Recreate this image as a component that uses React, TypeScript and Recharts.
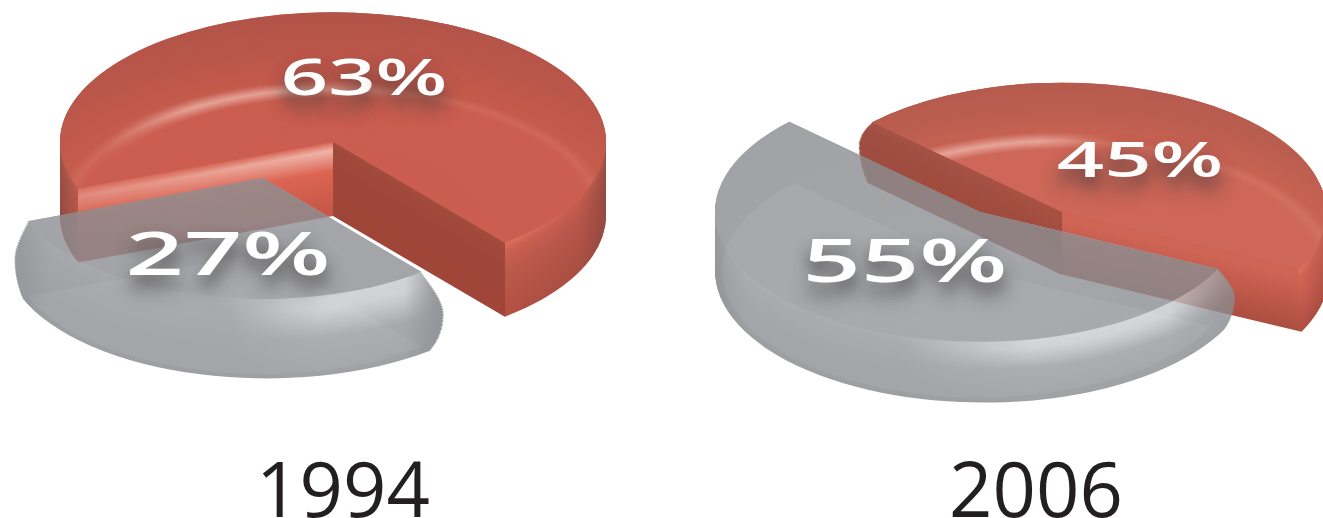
import { PieChart, Pie, Cell } from 'recharts';

const PAGE_W = 1323;
const PAGE_H = 518;

const years = ['1994', '2006'];
const redShares = [63, 45];
const grayShares = [27, 55];

const shareTable = (i: number) => [
  { name: 'red', value: redShares[i] },
  { name: 'gray', value: grayShares[i] },
];

// Four shades per x position: top of the wall down to its foot
const LEVELS = [0, 0.12, 0.4, 1];
type WallStop = [number, string[]];

const mixHex = (a: string, b: string, k: number) => {
  const parse = (h: string) => [1, 3, 5].map(p => parseInt(h.slice(p, p + 2), 16));
  const pa = parse(a);
  const pb = parse(b);
  const c = pa.map((v, i) => Math.round(v + (pb[i] - v) * k));
  return `rgb(${c[0]},${c[1]},${c[2]})`;
};

const shadeAt = (shades: string[], t: number) => {
  let i = 0;
  while (i < LEVELS.length - 2 && t > LEVELS[i + 1]) i++;
  return mixHex(shades[i], shades[i + 1], (t - LEVELS[i]) / (LEVELS[i + 1] - LEVELS[i]));
};

const redWalls1994: WallStop[] = [
  [60, ['#a5554a', '#9c5044', '#984c42', '#954a40']],
  [78, ['#c25c4e', '#b8594c', '#b4574a', '#b0554a']],
  [78, ['#d96a5a', '#e08c7e', '#d8604f', '#bd5444']],
  [200, ['#d5604f', '#e9a193', '#dc6554', '#c25646']],
  [333, ['#d5604f', '#efb5a8', '#dc6453', '#c25646']],
  [333, ['#a24c3e', '#a0493b', '#9e463a', '#a04639']],
  [505, ['#a24c3e', '#a0493b', '#9e463a', '#a04639']],
  [505, ['#e2705f', '#cd6152', '#bc5a4b', '#b25143']],
  [580, ['#cb6052', '#bf5a4c', '#b5544a', '#a84e42']],
  [606, ['#a8574a', '#9e5045', '#984a40', '#954a40']],
];

const redWalls2006: WallStop[] = [
  [860, ['#a65445', '#a14f42', '#9f4d40', '#a04d40']],
  [1062, ['#a85243', '#a65041', '#a04b3d', '#a24c3e']],
  [1062, ['#cd6354', '#cf6555', '#c65c4d', '#ab4f40']],
  [1298, ['#cd6354', '#cf6555', '#c65c4d', '#ab4f40']],
  [1298, ['#e07563', '#d46555', '#c85e50', '#b04f42']],
  [1323, ['#c76253', '#c05c4e', '#b85648', '#a84c40']],
];

// Gray is painted darker than it appears, the layer opacity lifts it over white
const grayPlain = ['#93959a', '#8e9094', '#8a8c90', '#86888c'];
const grayGlow = ['#c8cacd', '#c4c6c9', '#929498', '#888a8e'];
const grayEdge = ['#828488', '#7f8185', '#7c7e82', '#7a7c80'];

const grayWalls1994: WallStop[] = [
  [12, grayEdge],
  [50, grayPlain],
  [230, grayPlain],
  [320, grayGlow],
  [405, grayGlow],
  [436, grayEdge],
];

const grayWalls2006: WallStop[] = [
  [715, grayEdge],
  [745, grayPlain],
  [900, grayPlain],
  [1030, grayGlow],
  [1170, grayGlow],
  [1236, grayPlain],
];

interface PuckProps {
  id: string;
  table: { name: string; value: number }[];
  sliceIndex: number;
  startAngle: number;
  x: number;
  y: number;
  squash: number;
  depth: number;
  topRadius: number;
  wallRadius: number;
  wallShift: number;
  walls: WallStop[];
  faceStops: [number, string][];
  floorX: number;
  floorRadius: number;
  opacity?: number;
  floorTint?: string;
}

const LAYER_COUNT = 52;

const sliceCells = (table: PuckProps['table'], sliceIndex: number, fill: string) =>
  table.map((row, i) => <Cell key={row.name} fill={i === sliceIndex ? fill : 'none'} stroke="none" />);

const layerBox = (squash: number, extra = {}) => ({
  position: 'absolute' as const,
  left: 0,
  top: 0,
  transform: `scaleY(${squash})`,
  transformOrigin: '0 0',
  ...extra,
});

// Wall profile: bulges out below the top face, then tucks back in towards the foot
const swell = (t: number) =>
  t < 0.45 ? Math.sin((Math.PI / 2) * (t / 0.45)) : 1 - 0.6 * ((t - 0.45) / 0.55) ** 2;

const Puck = (p: PuckProps) => {
  const chartH = Math.ceil(PAGE_H / p.squash);
  const cy = p.y / p.squash;
  const depth = p.depth / p.squash;
  const layers = Array.from({ length: LAYER_COUNT }, (_, i) => i / (LAYER_COUNT - 1));
  const floorY = cy + depth;
  const faceR = depth + p.topRadius;

  return (
    <div style={layerBox(p.squash, { opacity: p.opacity ?? 1 })}>
      <PieChart width={PAGE_W} height={chartH} margin={{ top: 0, right: 0, bottom: 0, left: 0 }}>
        <defs>
          {layers.map((t, i) => (
            <linearGradient key={i} id={`${p.id}-w${i}`} gradientUnits="userSpaceOnUse" x1={0} x2={PAGE_W} y1={0} y2={0}>
              {p.walls.map(([x, shades], k) => (
                <stop key={k} offset={x / PAGE_W} stopColor={shadeAt(shades, t)} />
              ))}
            </linearGradient>
          ))}
          <radialGradient id={`${p.id}-face`} gradientUnits="userSpaceOnUse" cx={p.floorX} cy={floorY} r={faceR}>
            {p.faceStops.map(([o, c], k) => (
              <stop key={k} offset={o} stopColor={c} />
            ))}
          </radialGradient>
        </defs>
        {[...layers].reverse().map((t, n) => {
          const i = LAYER_COUNT - 1 - n;
          return (
            <Pie
              key={i}
              data={p.table}
              dataKey="value"
              cx={p.x + p.wallShift * swell(t)}
              cy={cy + t * depth}
              innerRadius={0}
              outerRadius={p.topRadius + (p.wallRadius - p.topRadius) * swell(t)}
              startAngle={p.startAngle}
              endAngle={p.startAngle + 360}
              stroke="none"
              isAnimationActive={false}
            >
              {sliceCells(p.table, p.sliceIndex, `url(#${p.id}-w${i})`)}
            </Pie>
          );
        })}
        <Pie
          data={p.table}
          dataKey="value"
          cx={p.x}
          cy={cy}
          innerRadius={0}
          outerRadius={p.topRadius}
          startAngle={p.startAngle}
          endAngle={p.startAngle + 360}
          stroke="none"
          isAnimationActive={false}
        >
          {sliceCells(p.table, p.sliceIndex, `url(#${p.id}-face)`)}
        </Pie>
        {p.floorTint && (
          <Pie
            data={p.table}
            dataKey="value"
            cx={p.x}
            cy={floorY}
            innerRadius={0}
            outerRadius={p.floorRadius}
            startAngle={p.startAngle}
            endAngle={p.startAngle + 360}
            stroke="none"
            isAnimationActive={false}
          >
            {sliceCells(p.table, p.sliceIndex, p.floorTint)}
          </Pie>
        )}
      </PieChart>
    </div>
  );
};

// Bright arc on the top face, faded out sideways with a css mask
const Glint = ({ id, table, sliceIndex, startAngle, x, y, squash, depth, radius, from, to, band }: any) => {
  const chartH = Math.ceil(PAGE_H / squash);
  const cy = y / squash;
  const floorY = cy + depth / squash;
  const mask = `linear-gradient(to right, transparent ${from[0]}px, black ${from[1]}px, black ${to[0]}px, transparent ${to[1]}px)`;
  return (
    <div style={layerBox(squash, { maskImage: mask, WebkitMaskImage: mask })}>
      <PieChart width={PAGE_W} height={chartH} margin={{ top: 0, right: 0, bottom: 0, left: 0 }}>
        <defs>
          <radialGradient id={`${id}-glint`} gradientUnits="userSpaceOnUse" cx={x} cy={floorY} r={radius + band}>
            <stop offset={(radius - band) / (radius + band)} stopColor="#f4c8bd" stopOpacity={0} />
            <stop offset={radius / (radius + band)} stopColor="#f4c8bd" stopOpacity={0.6} />
            <stop offset={1} stopColor="#f4c8bd" stopOpacity={0} />
          </radialGradient>
        </defs>
        <Pie
          data={table}
          dataKey="value"
          cx={x}
          cy={cy}
          innerRadius={0}
          outerRadius={radius + 8}
          startAngle={startAngle}
          endAngle={startAngle + 360}
          stroke="none"
          isAnimationActive={false}
        >
          {sliceCells(table, sliceIndex, `url(#${id}-glint)`)}
        </Pie>
      </PieChart>
    </div>
  );
};

const ShareLabel = ({ value, x, y, size, squash }: { value: number; x: number; y: number; size: number; squash: number }) => (
  <div
    style={{
      position: 'absolute',
      left: x,
      top: y,
      transform: `translate(-50%, -50%) scaleY(${squash})`,
      fontFamily: '"Open Sans", sans-serif',
      fontWeight: 600,
      fontSize: size,
      lineHeight: 1,
      color: '#fff',
      whiteSpace: 'nowrap',
      textShadow: '0 20px 20px rgba(60,55,55,0.55), 0 26px 30px rgba(60,55,55,0.3)',
    }}
  >
    {value}%
  </div>
);

const YearLabel = ({ text, x }: { text: string; x: number }) => (
  <div
    style={{
      position: 'absolute',
      left: x,
      top: 460,
      transform: 'translateX(-50%)',
      fontFamily: '"Open Sans", sans-serif',
      fontSize: 76,
      lineHeight: '56px',
      color: '#231f20',
    }}
  >
    {text}
  </div>
);

const redFace1994: [number, string][] = [
  [0, '#ca5d4f'],
  [0.6, '#cb5e50'],
  [0.625, '#cf6859'],
  [0.65, '#c55b4d'],
  [0.8, '#bb574a'],
  [1, '#b25347'],
];

const redFace2006: [number, string][] = [
  [0, '#cd6759'],
  [0.66, '#ce6759'],
  [0.69, '#d2705f'],
  [0.72, '#c86253'],
  [0.85, '#bb5e50'],
  [1, '#b55b4d'],
];

const grayFace: [number, string][] = [
  [0, '#8e9094'],
  [1, '#8a8c90'],
];

export default function App() {
  return (
    <div style={{ position: 'fixed', left: 0, top: 0, width: PAGE_W, height: PAGE_H, overflow: 'hidden', background: '#fff' }}>
      <Puck
        id="r94"
        table={shareTable(0)}
        sliceIndex={0}
        startAngle={-51}
        x={333}
        y={142}
        squash={0.475}
        depth={74}
        topRadius={273}
        wallRadius={273}
        wallShift={0}
        walls={redWalls1994}
        faceStops={redFace1994}
        floorX={333}
        floorRadius={267}
      />
      <Glint
        id="r94"
        table={shareTable(0)}
        sliceIndex={0}
        startAngle={-51}
        x={333}
        y={142}
        squash={0.475}
        depth={74}
        radius={267}
        band={18}
        from={[100, 190]}
        to={[300, 420]}
      />
      <Puck
        id="g94"
        table={shareTable(0)}
        sliceIndex={1}
        startAngle={-51}
        x={263}
        y={178}
        squash={0.48}
        depth={75}
        topRadius={252}
        wallRadius={275}
        wallShift={8}
        walls={grayWalls1994}
        faceStops={grayFace}
        floorX={263}
        floorRadius={252}
        opacity={0.8}
        floorTint="rgba(255,255,255,0.06)"
      />
      <Puck
        id="r06"
        table={shareTable(1)}
        sliceIndex={0}
        startAngle={-26}
        x={1062}
        y={212}
        squash={0.49}
        depth={62}
        topRadius={264}
        wallRadius={276}
        wallShift={-5}
        walls={redWalls2006}
        faceStops={redFace2006}
        floorX={1062}
        floorRadius={270}
      />
      <Glint
        id="r06"
        table={shareTable(1)}
        sliceIndex={0}
        startAngle={-26}
        x={1062}
        y={212}
        squash={0.49}
        depth={62}
        radius={272}
        band={18}
        from={[860, 930]}
        to={[1040, 1110]}
      />
      <Puck
        id="g06"
        table={shareTable(1)}
        sliceIndex={1}
        startAngle={-26}
        x={980}
        y={212}
        squash={0.49}
        depth={59}
        topRadius={265}
        wallRadius={274}
        wallShift={9}
        walls={grayWalls2006}
        faceStops={grayFace}
        floorX={980}
        floorRadius={258}
        opacity={0.8}
        floorTint="rgba(255,255,255,0.06)"
      />
      <ShareLabel value={redShares[0]} x={364} y={75} size={83} squash={0.6} />
      <ShareLabel value={grayShares[0]} x={228} y={252} size={102} squash={0.58} />
      <ShareLabel value={redShares[1]} x={1140} y={158} size={83} squash={0.58} />
      <ShareLabel value={grayShares[1]} x={905} y={259} size={102} squash={0.58} />
      <YearLabel text={years[0]} x={343} />
      <YearLabel text={years[1]} x={1036} />
    </div>
  );
}
